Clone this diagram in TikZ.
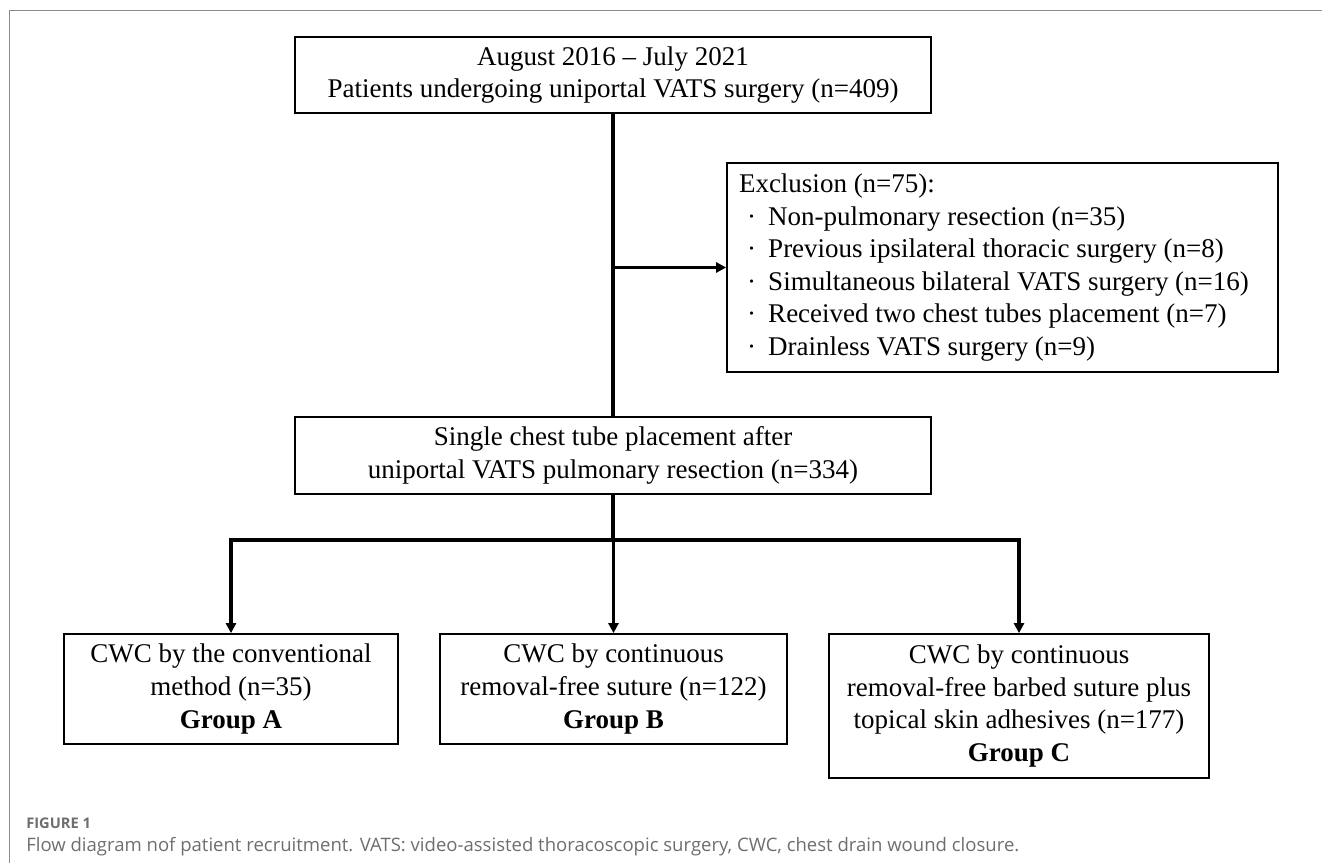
\documentclass[tikz,border=0pt]{standalone}
\usepackage{fontspec}
\setmainfont{Liberation Serif}
\newfontfamily\capfont{Open Sans}
\usetikzlibrary{arrows.meta}
\definecolor{framegray}{HTML}{8A8A8A}
\definecolor{capgray}{HTML}{6E6E6E}
\begin{document}
\begin{tikzpicture}[x=0.75pt,y=-0.75pt,
  box/.style={draw=black, line width=1.3pt, align=center, inner sep=0pt,
    font=\fontsize{20.25pt}{24.45pt}\selectfont},
  conn/.style={line width=2.4pt},
  arr/.style={conn, -{Triangle[width=7.5pt,length=7.5pt]}},
  captext/.style={anchor=west, inner sep=0pt, text=capgray}
]
\useasboundingbox (0,0) rectangle (1322,863);
\draw[framegray, line width=1.1pt] (9.5,863) -- (9.5,10.5) -- (1322,10.5);

\node[box, minimum width=477pt, minimum height=57pt] (top) at (613,75)
  {August 2016 -- July 2021\\Patients undergoing uniportal VATS surgery (n=409)};
\node[box, minimum width=413.25pt, minimum height=156.75pt, text width=395.25pt,
  inner xsep=9pt, align=flush left] (excl) at (1002.5,267.5)
  {Exclusion (n=75):\\
   \hspace*{0.3em}·\hspace{0.45em}Non-pulmonary resection (n=35)\\
   \hspace*{0.3em}·\hspace{0.45em}Previous ipsilateral thoracic surgery (n=8)\\
   \hspace*{0.3em}·\hspace{0.45em}Simultaneous bilateral VATS surgery (n=16)\\
   \hspace*{0.3em}·\hspace{0.45em}Received two chest tubes placement (n=7)\\
   \hspace*{0.3em}·\hspace{0.45em}Drainless VATS surgery (n=9)};
\node[box, minimum width=477pt, minimum height=57.75pt] (mid) at (613,455.5)
  {Single chest tube placement after\\uniportal VATS pulmonary resection (n=334)};
\node[box, minimum width=250.5pt, minimum height=82.5pt] (ga) at (231,689)
  {CWC by the conventional\\method (n=35)\\\textbf{Group A}};
\node[box, minimum width=260.25pt, minimum height=82.5pt] (gb) at (613.5,689)
  {CWC by continuous\\removal-free suture (n=122)\\\textbf{Group B}};
\node[box, minimum width=285pt, minimum height=108pt] (gc) at (1019,706)
  {CWC by continuous\\removal-free barbed suture plus\\topical skin adhesives (n=177)\\\textbf{Group C}};

\coordinate (br) at (top.south |- excl.west);
\coordinate (split) at (613,540);
\draw[conn] (top.south) -- (mid.north);
\draw[arr] (br) -- (excl.west);
\draw[conn] (mid.south) -- (split);
\draw[arr] (split) -| (ga.north);
\draw[arr] (split) -| (gc.north);
\draw[arr] (split) -- (split -| gb.north) -- (gb.north);

\node[captext, font=\capfont\bfseries\fontsize{11pt}{13pt}\selectfont] (figlabel) at (26,823) {FIGURE 1};
\node[captext, font=\capfont\fontsize{13.9pt}{16pt}\selectfont] (caption) at (26,847)
  {Flow diagram nof patient recruitment. VATS: video-assisted thoracoscopic surgery, CWC, chest drain wound closure.};
\end{tikzpicture}
\end{document}
